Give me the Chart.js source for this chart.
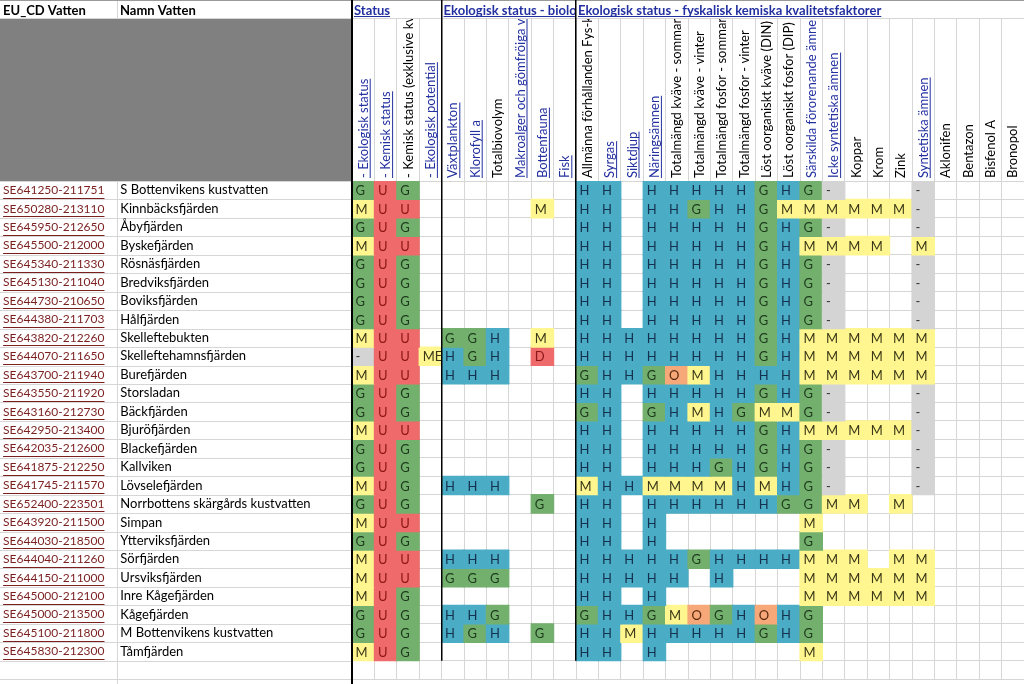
<!DOCTYPE html>
<html>
<head>
<meta charset="utf-8">
<script src="https://cdn.jsdelivr.net/npm/chart.js@4.4.1/dist/chart.umd.min.js"></script>
<style>
  html, body { margin: 0; padding: 0; overflow: hidden; background: #fff; }
  #wrap { position: relative; width: 1024px; height: 687px; }
</style>
</head>
<body>
<div id="wrap"><canvas id="vatten"></canvas></div>
<script>
// Vattenförekomster (rader)
const rowCodes = [
  "SE641250-211751", "SE650280-213110", "SE645950-212650", "SE645500-212000",
  "SE645340-211330", "SE645130-211040", "SE644730-210650", "SE644380-211703",
  "SE643820-212260", "SE644070-211650", "SE643700-211940", "SE643550-211920",
  "SE643160-212730", "SE642950-213400", "SE642035-212600", "SE641875-212250",
  "SE641745-211570", "SE652400-223501", "SE643920-211500", "SE644030-218500",
  "SE644040-211260", "SE644150-211000", "SE645000-212100", "SE645000-213500",
  "SE645100-211800", "SE645830-212300"
];
const rowNames = [
  "S Bottenvikens kustvatten", "Kinnbäcksfjärden", "Åbyfjärden", "Byskefjärden",
  "Rösnäsfjärden", "Bredviksfjärden", "Boviksfjärden", "Hålfjärden",
  "Skelleftebukten", "Skelleftehamnsfjärden", "Burefjärden", "Storsladan",
  "Bäckfjärden", "Bjuröfjärden", "Blackefjärden", "Kallviken",
  "Lövselefjärden", "Norrbottens skärgårds kustvatten", "Simpan", "Ytterviksfjärden",
  "Sörfjärden", "Ursviksfjärden", "Inre Kågefjärden", "Kågefjärden",
  "M Bottenvikens kustvatten", "Tåmfjärden"
];

// Kvalitetsfaktorer (kolumner)
const colLabels = [
  "- Ekologisk status", "- Kemisk status", "- Kemisk status (exklusive kvicksilver)", "- Ekologisk potential",
  "Växtplankton", "Klorofyll a", "Totalbiovolym", "Makroalger och gömfröiga växter", "Bottenfauna", "Fisk",
  "Allmänna förhållanden Fys-kem", "Syrgas", "Siktdjup", "Näringsämnen",
  "Totalmängd kväve - sommar", "Totalmängd kväve - vinter", "Totalmängd fosfor - sommar", "Totalmängd fosfor - vinter",
  "Löst oorganiskt kväve (DIN)", "Löst oorganiskt fosfor (DIP)", "Särskilda förorenande ämnen",
  "Icke syntetiska ämnen", "Koppar", "Krom", "Zink", "Syntetiska ämnen",
  "Aklonifen", "Bentazon", "Bisfenol A", "Bronopol"
];
// u = länk med understrykning, b = blå utan understrykning, "" = svart
const colLinks = [
  "u", "u", "", "u",
  "u", "u", "", "u", "u", "u",
  "", "u", "u", "u",
  "", "", "", "",
  "", "", "b",
  "u", "", "", "", "u",
  "", "", "", ""
];
const groupNames = ["Status", "Ekologisk status - biologiska kvalitetsfaktorer", "Ekologisk status - fyskalisk kemiska kvalitetsfaktorer"];
const groupStarts = [0, 4, 10];

// Bedömningar, en rad per vattenförekomst ("." = tom cell)
const cellRows = [
  "G U G . . . . . . . H H . H H H H H G H G - . . . - . . . .",
  "M U U . . . . . M . H H . H H G H H G M M M M M M - . . . .",
  "G U G . . . . . . . H H . H H H H H G H G - . . . - . . . .",
  "M U U . . . . . . . H H . H H H H H G H M M M M . M . . . .",
  "G U G . . . . . . . H H . H H H H H G H G - . . . - . . . .",
  "G U G . . . . . . . H H . H H H H H G H G - . . . - . . . .",
  "G U G . . . . . . . H H . H H H H H G H G - . . . - . . . .",
  "G U G . . . . . . . H H . H H H H H G H G - . . . - . . . .",
  "M U U . G G H . M . H H H H H H H H G H M M M M M M . . . .",
  "- U U MEP H G H . D . H H H H H H H H G H M M M M M M . . . .",
  "M U U . H H H . . . G H H G O M H H H H M M M M M M . . . .",
  "G U G . . . . . . . H H . H H H H H G H G - . . . - . . . .",
  "G U G . . . . . . . G H . G H M H G M M G - . . . - . . . .",
  "M U U . . . . . . . H H . H H H H H G H M M M M M - . . . .",
  "G U G . . . . . . . H H . H H H H H G H G - . . . - . . . .",
  "G U G . . . . . . . H H . H H H G H G H G - . . . - . . . .",
  "M U G . H H H . . . M H H M M M M H M H G - . . . - . . . .",
  "G U G . . . . . G . H H . H H H H H H G G M M . M . . . . .",
  "M U U . . . . . . . H H . H . . . . . . M . . . . . . . . .",
  "G U G . . . . . . . H H . H . . . . . . G . . . . . . . . .",
  "M U U . H H H . . . H H H H H G H H H H M M M . M M . . . .",
  "M U U . G G G . . . H H H H H . H . . . M M M M M M . . . .",
  "M U G . . . . . . . H H . H . . . . . . M M M M M M . . . .",
  "G U G . H H G . . . G H H G M O G H O H G . . . . . . . . .",
  "G U G . H G H . G . H H M H H H H H G H G . . . . . . . . .",
  "M U G . . . . . . . H H . H . . . . . . M . . . . . . . . ."
];

const cellFill = {
  H: "#4bacc6", G: "#74b06d", M: "#fff68f", O: "#f6a878",
  U: "#ef6a6a", D: "#ef6a6a", "-": "#d4d4d4", MEP: "#fff68f"
};
const cellInk = {
  H: "#14324f", G: "#1d3a1d", M: "#3a3818", O: "#5a2a10",
  U: "#8c1515", D: "#8c1515", "-": "#333333", MEP: "#3a3818"
};

const FONT = "Lato, 'Open Sans', sans-serif";
const GRID = "#d6d6d6";
const LINK = "#2330a0";
const CODE = "#7b1f1f";

const cells = cellRows.map(s => s.split(" ").map(t => (t === "." ? "" : t)));
const nSlots = rowCodes.length + 1; // en tom rad under tabellen
const rowEdges = [];
for (let i = 0; i <= nSlots; i++) rowEdges.push(i - 0.5);

const datasets = cells.map((row, r) => ({
  label: rowCodes[r],
  data: row.map(v => (v ? [r - 0.5, r + 0.5] : null)),
  backgroundColor: row.map(v => cellFill[v] || "rgba(0,0,0,0)"),
  cellText: row
}));

// Ritar arkets ramar, rubriker och celltexter med hjälp av diagrammets skalor
const sheetPlugin = {
  id: "sheet",
  beforeDraw(chart) {
    const { ctx, width, height } = chart;
    const y = chart.scales.y;
    const top = chart.chartArea.top;
    ctx.save();
    ctx.fillStyle = "#fff";
    ctx.fillRect(0, 0, width, height);
    ctx.fillStyle = "#808080";
    ctx.fillRect(0, 19, 352, top - 19);
    ctx.strokeStyle = GRID;
    ctx.lineWidth = 1;
    rowEdges.forEach(e => {
      const py = Math.round(y.getPixelForValue(e)) + 0.5;
      ctx.beginPath(); ctx.moveTo(0, py); ctx.lineTo(352, py); ctx.stroke();
    });
    ctx.beginPath();
    ctx.moveTo(0, 18.5); ctx.lineTo(width, 18.5);
    ctx.moveTo(117.5, 0); ctx.lineTo(117.5, 19);
    ctx.moveTo(117.5, top); ctx.lineTo(117.5, height);
    ctx.stroke();
    ctx.strokeStyle = "#9a9a9a";
    ctx.beginPath(); ctx.moveTo(0, 0.5); ctx.lineTo(width, 0.5); ctx.stroke();
    ctx.restore();
  },
  afterDatasetsDraw(chart) {
    const { ctx } = chart;
    const x = chart.scales.x;
    const colW = x.width / colLabels.length;
    ctx.save();
    ctx.font = "13px " + FONT;
    ctx.textBaseline = "middle";
    ctx.textAlign = "left";
    chart.data.datasets.forEach((ds, r) => {
      const meta = chart.getDatasetMeta(r);
      meta.data.forEach((el, j) => {
        const v = ds.cellText[j];
        if (!v) return;
        const { y: y1, base } = el.getProps(["y", "base"], true);
        const left = x.getPixelForValue(j) - colW / 2;
        const t = Math.min(y1, base), h = Math.abs(base - y1);
        ctx.save();
        ctx.beginPath(); ctx.rect(left, t, colW, h); ctx.clip();
        ctx.fillStyle = cellInk[v];
        ctx.fillText(v, left + 3.5, t + h / 2 + 1);
        ctx.restore();
      });
    });
    ctx.restore();
  },
  afterDraw(chart) {
    const { ctx, height } = chart;
    const x = chart.scales.x;
    const y = chart.scales.y;
    const yCode = chart.scales.yCode;
    const area = chart.chartArea;
    const colW = x.width / colLabels.length;
    const colLeft = j => x.getPixelForValue(j) - colW / 2;
    ctx.save();

    // översta rubrikraden
    ctx.textBaseline = "alphabetic";
    ctx.textAlign = "left";
    ctx.font = "bold 13px " + FONT;
    ctx.fillStyle = "#000";
    ctx.fillText("EU_CD Vatten", 3, 15);
    ctx.fillText("Namn Vatten", 120, 15);
    groupNames.forEach((g, k) => {
      const a = colLeft(groupStarts[k]);
      const b = k + 1 < groupStarts.length ? colLeft(groupStarts[k + 1]) : area.right;
      ctx.save();
      ctx.beginPath(); ctx.rect(a, 0, b - a, 18); ctx.clip();
      ctx.fillStyle = LINK;
      ctx.fillText(g, a + 2, 15);
      ctx.fillRect(a + 2, 16, ctx.measureText(g).width, 1);
      ctx.restore();
    });

    // lodräta kolumnrubriker
    ctx.save();
    ctx.beginPath(); ctx.rect(area.left, 19, area.right - area.left, area.top - 19); ctx.clip();
    ctx.font = "13px " + FONT;
    colLabels.forEach((lab, j) => {
      const cx = x.getPixelForValue(j);
      ctx.save();
      ctx.translate(cx + 4.5, area.top - 3);
      ctx.rotate(-Math.PI / 2);
      ctx.fillStyle = colLinks[j] ? LINK : "#000";
      ctx.fillText(lab, 0, 0);
      if (colLinks[j] === "u") ctx.fillRect(0, 2, ctx.measureText(lab).width, 1);
      ctx.restore();
    });
    ctx.restore();

    // understrykning av länkade koder
    ctx.font = "12px " + FONT;
    ctx.fillStyle = CODE;
    const sp = ctx.measureText(" ").width;
    rowCodes.forEach((c, i) => {
      const py = Math.round(yCode.getPixelForValue(i) + 7.5);
      ctx.fillRect(yCode.left + sp, py, ctx.measureText(c).width, 1);
    });

    // tjocka avgränsningslinjer
    const lastRow = y.getPixelForValue(rowCodes.length - 0.5);
    ctx.fillStyle = "#000";
    ctx.fillRect(area.left - 1, 0, 2, height);
    [4, 10].forEach(j => {
      const px = Math.round(colLeft(j));
      ctx.fillRect(px - 1, 0, 1.5, lastRow);
    });
    ctx.restore();
  }
};

const sideAxis = (labels, weight, w, color, size) => ({
  type: "category",
  position: "left",
  weight: weight,
  labels: labels.concat([""]),
  offset: true,
  grid: { display: false },
  border: { display: false },
  ticks: {
    autoSkip: false,
    crossAlign: "far",
    padding: 0,
    color: color,
    font: { family: FONT, size: size },
    callback: function (v) { return " " + this.getLabelForValue(v); }
  },
  afterFit: s => { s.width = w; }
});

new Chart(document.getElementById("vatten"), {
  type: "bar",
  data: { labels: colLabels, datasets: datasets },
  options: {
    responsive: true,
    maintainAspectRatio: false,
    animation: false,
    layout: { padding: { top: 19, left: 0, right: 0, bottom: 0 } },
    datasets: {
      bar: { grouped: false, barPercentage: 1, categoryPercentage: 1, borderWidth: 0, inflateAmount: 0.6 }
    },
    plugins: { legend: { display: false }, tooltip: { enabled: false } },
    scales: {
      x: {
        type: "category",
        position: "top",
        offset: true,
        grid: { offset: true, color: GRID, drawTicks: true, tickLength: 162 },
        border: { display: false },
        ticks: { display: false },
        afterFit: s => { s.height = 162; }
      },
      y: {
        type: "linear",
        position: "left",
        weight: 0,
        reverse: true,
        min: -0.5,
        max: nSlots - 0.5,
        grid: { color: GRID, drawTicks: false },
        border: { display: false },
        ticks: { display: false },
        afterBuildTicks: s => { s.ticks = rowEdges.map(v => ({ value: v })); },
        afterFit: s => { s.width = 0; }
      },
      yName: sideAxis(rowNames, 1, 235, "#000", 13),
      yCode: sideAxis(rowCodes, 2, 117, CODE, 12)
    }
  },
  plugins: [sheetPlugin]
});
</script>
</body>
</html>
